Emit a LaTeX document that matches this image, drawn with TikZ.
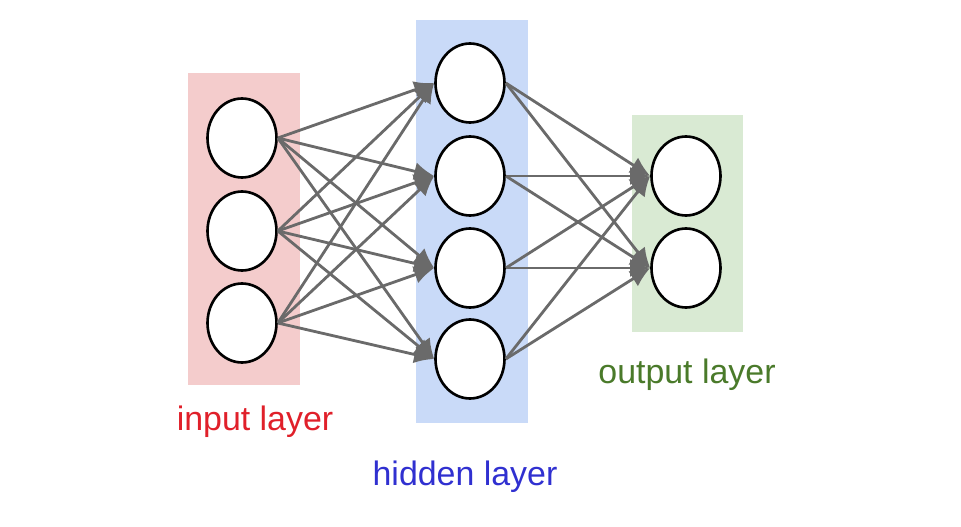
\documentclass[tikz,border=0pt]{standalone}
\usepackage{fontspec}
\setmainfont{Liberation Sans}
\usetikzlibrary{shapes.geometric,arrows.meta}
\definecolor{inputfill}{HTML}{F4CCCC}
\definecolor{hiddenfill}{HTML}{C9DAF8}
\definecolor{outputfill}{HTML}{D9EAD3}
\definecolor{inputtext}{HTML}{E0202A}
\definecolor{hiddentext}{HTML}{3030D0}
\definecolor{outputtext}{HTML}{4A7A2A}
\definecolor{linkgray}{HTML}{6A6A6A}
\begin{document}
\begin{tikzpicture}[x=0.02cm,y=-0.02cm]
			\useasboundingbox (0,0) rectangle (961,527);
			\fill[inputfill] (188,73) rectangle (300,385);
			\fill[hiddenfill] (416,20) rectangle (528,423);
			\fill[outputfill] (632,115) rectangle (743,332);
			\begin{scope}[every node/.style={ellipse, draw=black, line width=1.5pt, fill=white, inner sep=0pt, minimum width=1.38cm, minimum height=1.58cm}]
				\node (i1) at (242,138) {};
				\node (i2) at (242,231) {};
				\node (i3) at (242,323) {};
				\node (h1) at (470,83) {};
				\node (h2) at (470,176) {};
				\node (h3) at (470,268) {};
				\node (h4) at (470,359) {};
				\node (o1) at (686,176) {};
				\node (o2) at (686,268) {};
			\end{scope}
			\begin{scope}[every edge/.style={draw=linkgray, line width=1.6pt, -{Latex[length=0.4cm,width=0.36cm]}}]
				\path (i1.east) edge (h1.west);
				\path (i1.east) edge (h2.west);
				\path (i1.east) edge (h3.west);
				\path (i1.east) edge (h4.west);
				\path (i2.east) edge (h1.west);
				\path (i2.east) edge (h2.west);
				\path (i2.east) edge (h3.west);
				\path (i2.east) edge (h4.west);
				\path (i3.east) edge (h1.west);
				\path (i3.east) edge (h2.west);
				\path (i3.east) edge (h3.west);
				\path (i3.east) edge (h4.west);
				\path (h1.east) edge (o1.west);
				\path (h1.east) edge (o2.west);
				\path (h2.east) edge (o1.west);
				\path (h2.east) edge (o2.west);
				\path (h3.east) edge (o1.west);
				\path (h3.east) edge (o2.west);
				\path (h4.east) edge (o1.west);
				\path (h4.east) edge (o2.west);
			\end{scope}
			\begin{scope}[every node/.style={anchor=base, inner sep=0pt, font=\fontsize{19.3pt}{23pt}\selectfont}]
				\node[text=inputtext] (inlabel) at (255,430) {input layer};
				\node[text=hiddentext] (hidlabel) at (465,485) {hidden layer};
				\node[text=outputtext] (outlabel) at (687,383) {output layer};
			\end{scope}
		\end{tikzpicture}
\end{document}
